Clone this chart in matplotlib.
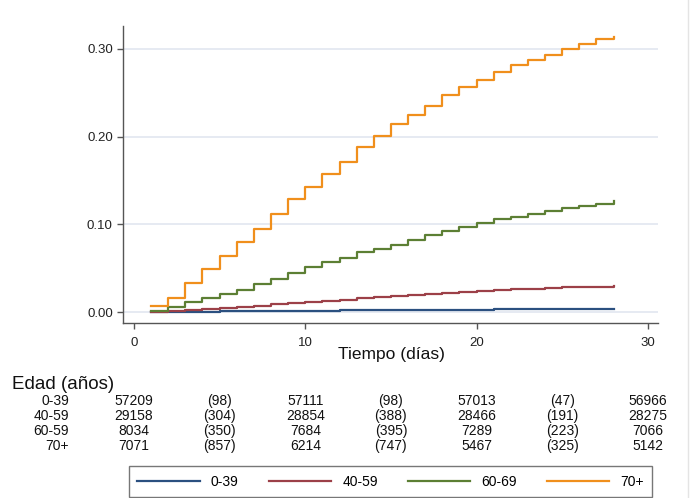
import matplotlib
matplotlib.use("Agg")
import matplotlib.pyplot as plt
import matplotlib.transforms as mtransforms
from matplotlib.lines import Line2D

plt.rcParams['font.family'] = ['Liberation Sans', 'DejaVu Sans']

days = list(range(1, 29))
# cumulative incidence per age group
inc_0_39 = [0.0002, 0.0003, 0.0005, 0.0006, 0.0008, 0.0010, 0.0011, 0.0013, 0.0014, 0.0016,
            0.0017, 0.0019, 0.0020, 0.0021, 0.0022, 0.0024, 0.0025, 0.0026, 0.0027, 0.0028,
            0.0029, 0.0030, 0.0031, 0.0032, 0.0033, 0.0033, 0.0034, 0.0035]
inc_40_59 = [0.0005, 0.001, 0.002, 0.003, 0.005, 0.006, 0.007, 0.009, 0.010, 0.012,
             0.013, 0.014, 0.016, 0.017, 0.018, 0.019, 0.020, 0.022, 0.023, 0.024,
             0.025, 0.026, 0.026, 0.027, 0.028, 0.028, 0.029, 0.030]
inc_60_69 = [0.0015, 0.006, 0.011, 0.0156, 0.0206, 0.0256, 0.0317, 0.0378, 0.0443, 0.0511,
             0.0569, 0.0618, 0.0679, 0.0721, 0.0767, 0.0824, 0.0874, 0.0924, 0.097, 0.1015,
             0.1057, 0.1088, 0.1122, 0.1156, 0.118, 0.1206, 0.1229, 0.126]
inc_70 = [0.007, 0.016, 0.033, 0.049, 0.064, 0.080, 0.095, 0.112, 0.129, 0.143,
          0.157, 0.171, 0.188, 0.201, 0.214, 0.224, 0.235, 0.247, 0.256, 0.265,
          0.274, 0.281, 0.287, 0.293, 0.300, 0.306, 0.311, 0.314]

groups = ["0-39", "40-59", "60-69", "70+"]
colors = ["#2b5080", "#9c4048", "#5c7f34", "#f08f1c"]

# table under the plot
table_x = [0, 5, 10, 15, 20, 25, 30]
row_labels = ["0-39", "40-59", "60-59", "70+"]
rows = [
    ["57209", "(98)", "57111", "(98)", "57013", "(47)", "56966"],
    ["29158", "(304)", "28854", "(388)", "28466", "(191)", "28275"],
    ["8034", "(350)", "7684", "(395)", "7289", "(223)", "7066"],
    ["7071", "(857)", "6214", "(747)", "5467", "(325)", "5142"],
]

W, H = 690, 498
fig = plt.figure(figsize=(6.9, 4.98), dpi=100)
ax = fig.add_axes([123 / W, 1 - 323 / H, (658 - 123) / W, (323 - 26) / H])

for ys, c, lab in zip([inc_0_39, inc_40_59, inc_60_69, inc_70], colors, groups):
    ax.step(days, ys, where="post", color=c, lw=1.6, label=lab, zorder=3)

ax.set_xlim(-0.64, 30.59)
ax.set_ylim(-0.0125, 0.326)
ax.set_xticks([0, 10, 20, 30])
ax.set_yticks([0, 0.1, 0.2, 0.3])
ax.set_yticklabels(["0.00", "0.10", "0.20", "0.30"])
ax.grid(axis="y", color="#e2e6f0", lw=1.2, zorder=0)
ax.spines["top"].set_visible(False)
ax.spines["right"].set_visible(False)
for s in ["left", "bottom"]:
    ax.spines[s].set_color("#555555")
    ax.spines[s].set_linewidth(1.0)
ax.tick_params(axis="both", colors="#555555", labelcolor="#222222", labelsize=9.5,
               length=4.3, width=1.0)
ax.tick_params(axis="x", pad=6)
ax.tick_params(axis="y", pad=3)
ax.set_xlabel("Tiempo (días)", fontsize=12.5, color="#111111")
ax.xaxis.set_label_coords(0.501, -0.08)

# number-at-risk table
trans = mtransforms.blended_transform_factory(ax.transData, fig.transFigure)
fig.text(12 / W, 1 - 384 / H, "Edad (años)", fontsize=13.5, va="center", ha="left", color="#111111")
row_y = [401, 416, 431, 446]
for lab, vals, yp in zip(row_labels, rows, row_y):
    fig.text(69 / W, 1 - yp / H, lab, fontsize=10, va="center", ha="right", color="#111111")
    for xv, v in zip(table_x, vals):
        fig.text(xv, 1 - yp / H, v, transform=trans, fontsize=10, va="center", ha="center",
                 color="#111111")

handles, labels = ax.get_legend_handles_labels()
leg = fig.legend(handles, labels, ncol=4, loc="lower left", mode="expand",
                 bbox_to_anchor=(129 / W, 1 - 497 / H, (652 - 129) / W, (497 - 464) / H),
                 borderaxespad=0, fontsize=10, handlelength=4.5, handletextpad=0.8,
                 frameon=True, fancybox=False, borderpad=0.6)
leg.get_frame().set_edgecolor("#555555")
leg.get_frame().set_linewidth(1.0)

fig.add_artist(Line2D([688 / W, 688 / W], [0, 1], transform=fig.transFigure, color="#e4e4e4", lw=1))

fig.savefig("out.png", dpi=100, facecolor="white")
